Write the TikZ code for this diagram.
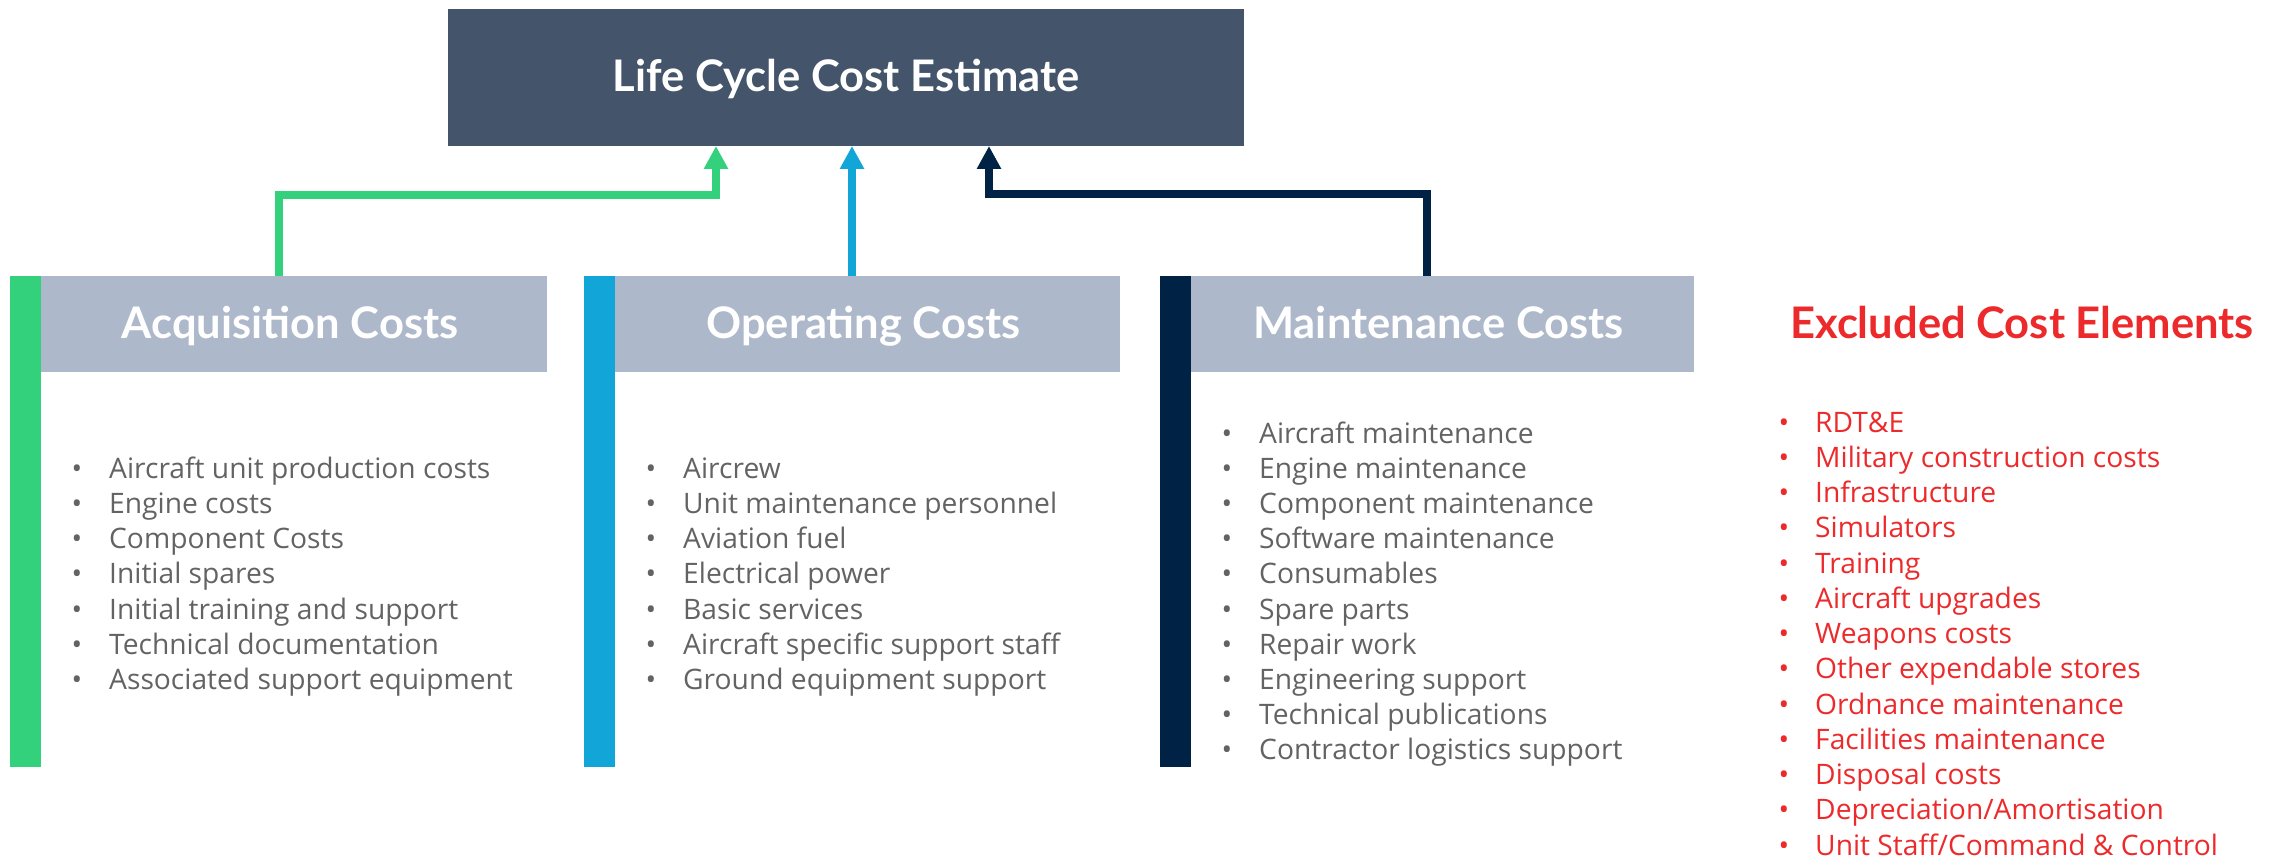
\documentclass[tikz,border=0pt]{standalone}
\usepackage{fontspec}
\setmainfont{Open Sans}
\newfontfamily\headfont{Lato}
\usetikzlibrary{arrows.meta}
\definecolor{titlebg}{HTML}{44546B}
\definecolor{headbg}{HTML}{ADB8CA}
\definecolor{cgreen}{HTML}{33D17C}
\definecolor{cblue}{HTML}{12A6D8}
\definecolor{cnavy}{HTML}{002245}
\definecolor{cred}{HTML}{EC2A2C}
\definecolor{ctext}{HTML}{636363}
\begin{document}
\begin{tikzpicture}[x=1pt,y=-1pt,
  box/.style={anchor=north west, inner sep=0pt, outer sep=0pt},
  headfnt/.style={font=\headfont\bfseries\fontsize{43.5}{43.5}\selectfont},
  titlebox/.style={box, fill=titlebg, minimum width=796pt, minimum height=137pt, text=white, headfnt, text height=29pt, text depth=0pt},
  headbox/.style={box, fill=headbg, minimum height=96pt, text=white, headfnt, text height=28pt, text depth=0pt},
  bar/.style={box, minimum width=31pt, minimum height=491pt},
  conn/.style={line width=7.5pt, line join=miter, -{Triangle[width=23pt,length=23pt]}},
  itemtext/.style={anchor=base west, inner sep=0pt, text=ctext, font=\fontsize{28.2}{35}\selectfont},
  bul/.style={anchor=base, inner sep=0pt, text=ctext, font=\fontsize{28.2}{35}\selectfont},
]
\useasboundingbox (0,0) rectangle (2274,858);
% title
\node[titlebox] (title) at (448,9) {Life Cycle Cost Estimate};
% colour bars
\node[bar, fill=cgreen] (gbar) at (10,276) {};
\node[bar, fill=cblue] (bbar) at (584,276) {};
\node[bar, fill=cnavy] (nbar) at (1160,276) {};
% headers
\node[headbox, minimum width=506pt] (acqh) at (41,276) {Acquisition Costs\hspace*{8pt}};
\node[headbox, minimum width=505pt] (oph) at (615,276) {Operating Costs\hspace*{8pt}};
\node[headbox, minimum width=503pt] (mainth) at (1191,276) {Maintenance Costs\hspace*{8pt}};
\node[anchor=base, inner sep=0pt, text=cred, headfnt] (excl) at (2022,338) {Excluded Cost Elements};
% connectors
\draw[conn, cgreen] ([xshift=238pt]acqh.north west) -- ++(0,-81) -| ([xshift=-130pt]title.south);
\draw[conn, cblue] ([xshift=6pt]title.south |- oph.north) -- ([xshift=6pt]title.south);
\draw[conn, cnavy] ([xshift=236pt]mainth.north west) -- ++(0,-82) -| ([xshift=143pt]title.south);
% lists
\foreach \t [count=\i from 0] in {Aircraft unit production costs, Engine costs, Component Costs, Initial spares, Initial training and support, Technical documentation, Associated support equipment} {
  \node[bul] (ab\i) at (77, 478+35.3*\i) {•};
  \node[itemtext] (a\i) at (109, 478+35.3*\i) {\t};
}
\foreach \t [count=\i from 0] in {Aircrew, Unit maintenance personnel, Aviation fuel, Electrical power, Basic services, Aircraft specific support staff, Ground equipment support} {
  \node[bul] (ob\i) at (651, 478+35.3*\i) {•};
  \node[itemtext] (o\i) at (683, 478+35.3*\i) {\t};
}
\foreach \t [count=\i from 0] in {Aircraft maintenance, Engine maintenance, Component maintenance, Software maintenance, Consumables, Spare parts, Repair work, Engineering support, Technical publications, Contractor logistics support} {
  \node[bul] (mb\i) at (1227, 443+35.2*\i) {•};
  \node[itemtext] (m\i) at (1259, 443+35.2*\i) {\t};
}
\foreach \t [count=\i from 0] in {RDT\&E, Military construction costs, Infrastructure, Simulators, Training, Aircraft upgrades, Weapons costs, Other expendable stores, Ordnance maintenance, Facilities maintenance, Disposal costs, Depreciation/Amortisation, Unit Staff/Command \& Control} {
  \node[bul, text=cred] (eb\i) at (1784, 432+35.25*\i) {•};
  \node[itemtext, text=cred] (e\i) at (1815, 432+35.25*\i) {\t};
}
\end{tikzpicture}
\end{document}
